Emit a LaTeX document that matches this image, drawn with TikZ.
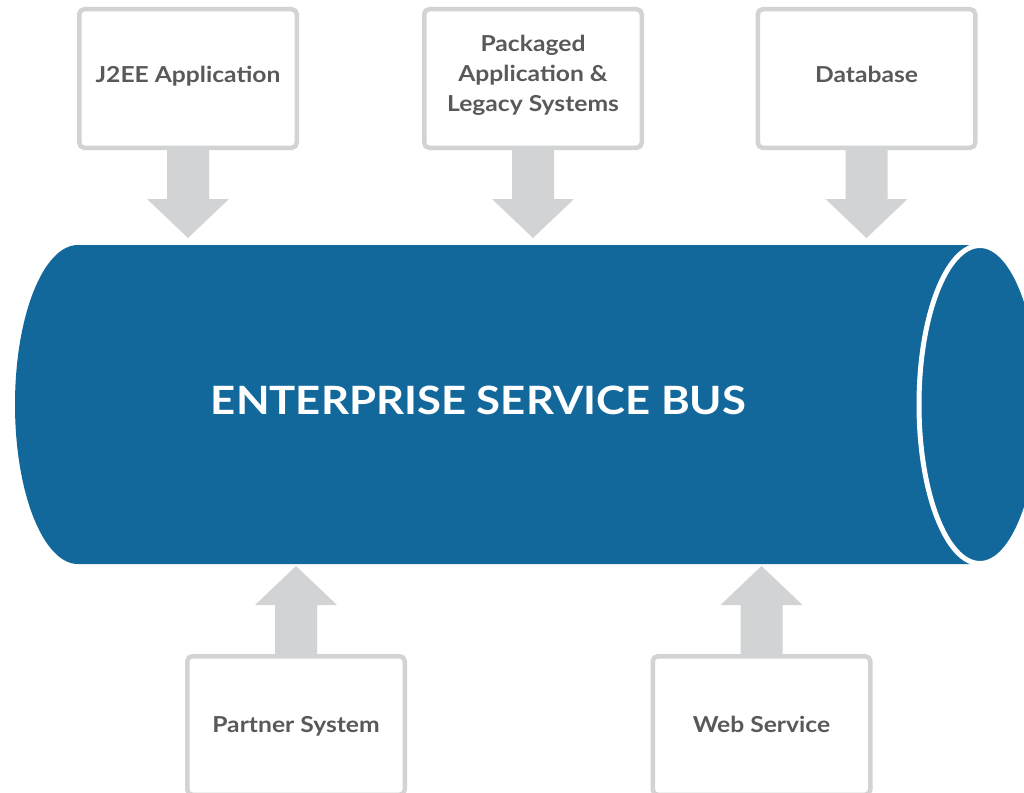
\documentclass[tikz,border=0pt]{standalone}
\usepackage{fontspec}
\setmainfont{Lato}[FakeStretch=1.12]
\usetikzlibrary{calc}
\definecolor{busblue}{HTML}{12689B}
\definecolor{boxgray}{HTML}{D1D3D4}
\definecolor{txtgray}{HTML}{58595B}
\tikzset{
  sysbox/.style={draw=boxgray, line width=4.5pt, rounded corners=5pt, fill=white,
    minimum width=217.5pt, minimum height=138.5pt, inner sep=0pt,
    text=txtgray, align=center, font=\fontsize{22}{30}\selectfont\bfseries},
  oneline/.style={text height=16pt, text depth=7.5pt},
  blockarrow/.style={fill=boxgray}
}
\newcommand{\blockarr}[2]{%
  \fill[blockarrow] ($(#1)!21pt!90:(#2)$) -- ($($(#2)!39pt!(#1)$)!21pt!90:(#2)$)
    -- ($($(#2)!39pt!(#1)$)!41pt!90:(#2)$) -- (#2)
    -- ($($(#2)!39pt!(#1)$)!41pt!-90:(#2)$) -- ($($(#2)!39pt!(#1)$)!21pt!-90:(#2)$)
    -- ($(#1)!21pt!-90:(#2)$) -- cycle;}
\begin{document}
\begin{tikzpicture}[x=1pt,y=-1pt]
\clip (0,0) rectangle (1024,792);
\fill[white] (0,0) rectangle (1024,792);
% bus cylinder
\fill[busblue] (78,245) -- (980,245) -- (980,564) -- (78,564)
  arc[start angle=90, end angle=270, x radius=63, y radius=159.5] -- cycle;
\draw[fill=busblue, draw=white, line width=5pt] (980,404.5) ellipse[x radius=61, y radius=159];
\node[text=white, font=\fontsize{39}{40}\selectfont\bfseries, inner sep=0pt] (bus) at (478.5,400) {ENTERPRISE SERVICE BUS};
% systems
\node[sysbox, oneline] (j2ee) at (188,78.5) {J2EE Application};
\node[sysbox] (pkg) at (533,78.5) {Packaged\\Application \&\\\raisebox{0pt}[\height][\dimexpr\depth+6pt\relax]{Legacy Systems}};
\node[sysbox, oneline] (db) at (866.5,78.5) {Database};
\node[sysbox, oneline, text depth=2pt] (partner) at (296,725.5) {Partner System};
\node[sysbox, oneline, text depth=2pt] (web) at (761.5,725.5) {Web Service};
% arrow tips at the bus
\coordinate (t1) at (188,238);
\coordinate (t2) at (533,238);
\coordinate (t3) at (866.5,238);
\coordinate (t4) at (296,566);
\coordinate (t5) at (761.5,566);
\blockarr{j2ee.south}{t1}
\blockarr{pkg.south}{t2}
\blockarr{db.south}{t3}
\blockarr{partner.north}{t4}
\blockarr{web.north}{t5}
\end{tikzpicture}
\end{document}
